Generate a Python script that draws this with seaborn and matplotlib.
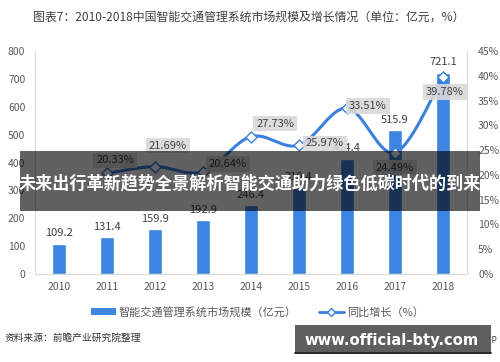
import numpy as np
import pandas as pd
import matplotlib
matplotlib.use("Agg")
import matplotlib.pyplot as plt
import seaborn as sns
from matplotlib.patches import Rectangle, Patch
from matplotlib.lines import Line2D

# ---- data ----
years = ["2010", "2011", "2012", "2013", "2014", "2015", "2016", "2017", "2018"]
market_size = [109.2, 131.4, 159.9, 192.9, 246.4, 310.4, 414.4, 515.9, 721.1]
growth_years = ["2011", "2012", "2013", "2014", "2015", "2016", "2017", "2018"]
growth_pct = [20.33, 21.69, 20.64, 27.73, 25.97, 33.51, 24.49, 39.78]
left_ticks = [0, 100, 200, 300, 400, 500, 600, 700, 800]
right_ticks = [0, 5, 10, 15, 20, 25, 30, 35, 40, 45]

title = "图表7：2010-2018中国智能交通管理系统市场规模及增长情况（单位：亿元，%）"
bar_label = "智能交通管理系统市场规模（亿元）"
line_label = "同比增长（%）"
source = "资料来源：前瞻产业研究院整理"
banner = "未来出行革新趋势全景解析智能交通助力绿色低碳时代的到来"
site = "www.official-bty.com"

# label offsets for growth labels (pixels: dx right, dy down)
label_offsets = [(8, -13), (13, -21), (25, -8), (24, -13), (26, -2), (21, -2), (0, 15), (2, 15)]

BAR = "#3d85e0"
LINE = "#3a80dc"
GRAY = "#595959"
DARK = "#404040"

sns.set_theme(style="white")
plt.rcParams["font.family"] = ["Noto Sans CJK SC", "DejaVu Sans"]

fig = plt.figure(figsize=(5, 3.62), dpi=100)
ax = fig.add_axes([0.07, 0.243, 0.864, 0.616])

df = pd.DataFrame({"year": years, "size": market_size})
sns.barplot(data=df, x="year", y="size", color=BAR, saturation=1, width=0.31, ax=ax)
ax.set_xlim(-0.5, 8.5)
ax.set_ylim(0, 800)
ax.set_yticks(left_ticks)
ax.set_xlabel("")
ax.set_ylabel("")
ax.tick_params(axis="y", length=0, pad=7, labelsize=7.5, labelcolor=GRAY)
ax.tick_params(axis="x", length=0, pad=6, labelsize=7.5, labelcolor=GRAY)

for i, v in enumerate(market_size):
    ax.annotate(f"{v:.1f}", (i, v), xytext=(0, 4), textcoords="offset points",
                ha="center", va="bottom", fontsize=8, color=DARK)

ax2 = ax.twinx()
ax2.set_ylim(0, 45)
ax2.set_yticks(right_ticks)
ax2.set_yticklabels([f"{t}%" for t in right_ticks])
ax2.tick_params(axis="y", length=0, pad=8, labelsize=7.5, labelcolor=GRAY)

gx = np.array([years.index(y) for y in growth_years], dtype=float)
gy = np.array(growth_pct, dtype=float)

# smooth curve (Catmull-Rom) in pixel-like space
sx, sy = 48.0, 223.0 / 45.0
pts = np.column_stack([gx * sx, gy * sy])
ext = np.vstack([pts[0], pts, pts[-1]])
curve = []
for i in range(1, len(ext) - 2):
    p0, p1, p2, p3 = ext[i - 1], ext[i], ext[i + 1], ext[i + 2]
    t = np.linspace(0, 1, 30, endpoint=False)[:, None]
    c = 0.5 * ((2 * p1) + (-p0 + p2) * t + (2 * p0 - 5 * p1 + 4 * p2 - p3) * t ** 2
               + (-p0 + 3 * p1 - 3 * p2 + p3) * t ** 3)
    curve.append(c)
curve.append(pts[-1][None, :])
curve = np.vstack(curve)
ax2.plot(curve[:, 0] / sx, curve[:, 1] / sy, color=LINE, lw=2.2, zorder=2,
         solid_capstyle="round")
sns.scatterplot(x=gx, y=gy, marker="D", s=32, color="white", edgecolor=LINE,
                linewidth=1.0, ax=ax2, zorder=3)

for (x, v), (dx, dy) in zip(zip(gx, gy), label_offsets):
    ax2.annotate(f"{v:.2f}%", (x, v), xytext=(dx * 0.72, -dy * 0.72),
                 textcoords="offset points", ha="center", va="center",
                 fontsize=8, color=DARK, zorder=4,
                 bbox=dict(boxstyle="square,pad=0.25", fc="#d9d9d9", ec="none", alpha=0.9))

for a in (ax, ax2):
    a.spines["top"].set_visible(False)
    for s in ("left", "right", "bottom"):
        a.spines[s].set_color("#d9d9d9")
        a.spines[s].set_linewidth(0.8)
ax2.spines["left"].set_visible(False)
ax2.spines["bottom"].set_visible(False)
ax.spines["right"].set_visible(False)

handles = [Patch(fc=BAR, ec="none"),
           Line2D([0], [0], color=LINE, lw=2, marker="D", mfc="white", mec=LINE, ms=4)]
fig.legend(handles, [bar_label, line_label], loc="center", bbox_to_anchor=(0.515, 0.138),
           ncol=2, frameon=False, fontsize=8, handlelength=2.2, handleheight=0.5,
           columnspacing=2.0, handletextpad=0.3, labelcolor=GRAY)

fig.text(0.498, 1 - 17 / 362, title, ha="center", va="center", fontsize=8.6, color=DARK)
fig.text(0.01, 1 - 338 / 362, source, ha="left", va="center", fontsize=7, color="#333333")
fig.text(0.994, 1 - 340 / 362, "@前瞻经济学人APP", ha="right", va="center", fontsize=6,
         color=DARK, zorder=5)

fig.add_artist(Rectangle((0.04, 0.417), 0.92, 0.166, transform=fig.transFigure,
                         fc="black", ec="none", alpha=0.62, zorder=10))
fig.text(0.5, 0.494, banner, ha="center", va="center", fontsize=12.3, fontweight="bold",
         color="white", zorder=11)

fig.add_artist(Rectangle((295 / 500, 1 - 352 / 362), 196 / 500, 27 / 362,
                         transform=fig.transFigure, fc="#5e5e5e", ec="none", zorder=10))
fig.add_artist(Line2D([295 / 500, 491 / 500], [1 - 352.5 / 362, 1 - 352.5 / 362],
                      transform=fig.transFigure, color="black", lw=1.2, zorder=10))
fig.text(392 / 500, 1 - 341 / 362, site, ha="center", va="center", fontsize=10.6,
         fontweight="bold", color="white", zorder=11, family="DejaVu Sans")

fig.savefig("out.png", dpi=100)
